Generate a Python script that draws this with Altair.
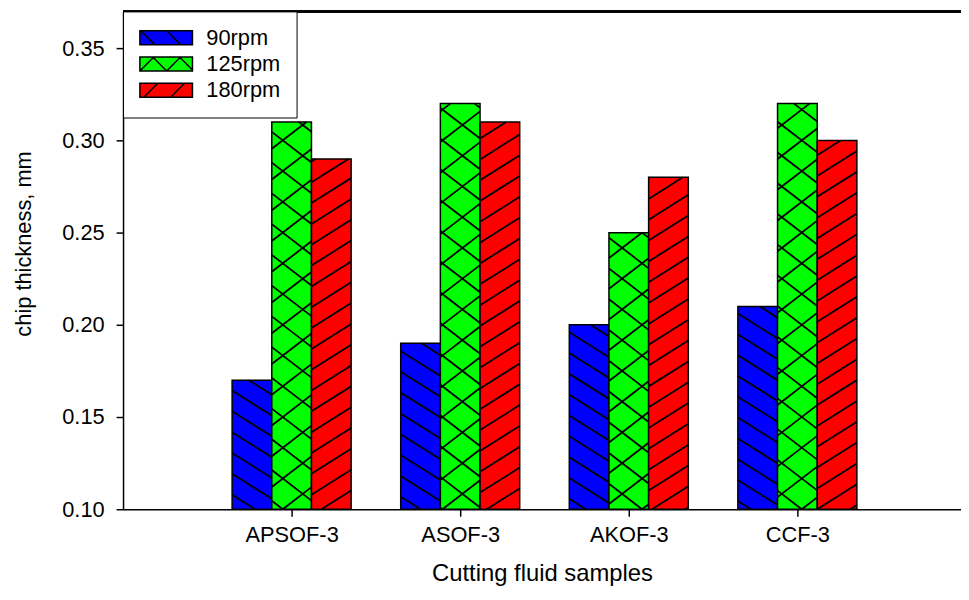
import altair as alt
import pandas as pd

# ---------------- data ----------------
categories = ["APSOF-3", "ASOF-3", "AKOF-3", "CCF-3"]
series = ["90rpm", "125rpm", "180rpm"]
rpm90 = [0.17, 0.19, 0.20, 0.21]
rpm125 = [0.31, 0.32, 0.25, 0.32]
rpm180 = [0.29, 0.31, 0.28, 0.30]
colors = ["#0000ff", "#00ff00", "#ff0000"]
y_ticks = [0.10, 0.15, 0.20, 0.25, 0.30, 0.35]

# ---------------- layout ----------------
W, H = 845, 502
X_MAX = 845 / 170.0
Y_MIN = 0.10
Y_MAX = 0.37
KX = W / X_MAX
KY = H / (Y_MAX - Y_MIN)
BAR_W = 40 / KX
FONT = "Liberation Sans"

rows = []
for si, (s, vals) in enumerate(zip(series, [rpm90, rpm125, rpm180])):
    for ci, (c, v) in enumerate(zip(categories, vals)):
        center = (ci + 1) + (si - 1) * BAR_W
        rows.append(dict(category=c, series=s, value=v,
                         x0=center - BAR_W / 2, x1=center + BAR_W / 2, base=Y_MIN))
bars_df = pd.DataFrame(rows)

# hatch patterns: (direction, slope, vertical spacing in px)
hatch_spec = {
    "90rpm": [(-1, 0.63, 21.0)],
    "125rpm": [(1, 0.77, 31.0), (-1, 0.77, 31.0)],
    "180rpm": [(1, 0.63, 21.0)],
}
segs = []
for r in rows:
    xl, xr = r["x0"] * KX, r["x1"] * KX
    yb, yt = 0.0, (r["value"] - Y_MIN) * KY
    for sign, s, d in hatch_spec[r["series"]]:
        if sign > 0:
            cmin, cmax = yb - s * xr, yt - s * xl
        else:
            cmin, cmax = yb + s * xl, yt + s * xr
        k = int(cmin // d)
        while k * d <= cmax:
            c = k * d
            k += 1
            if sign > 0:
                xa, xb = max(xl, (yb - c) / s), min(xr, (yt - c) / s)
            else:
                xa, xb = max(xl, (c - yt) / s), min(xr, (c - yb) / s)
            if xb - xa < 0.5:
                continue
            ya, yb2 = sign * s * xa + c, sign * s * xb + c
            segs.append(dict(hx0=xa / KX, hx1=xb / KX,
                             hy0=Y_MIN + ya / KY, hy1=Y_MIN + yb2 / KY))
hatch_df = pd.DataFrame(segs)

# legend swatch shapes (53x14 px rectangles with hatching)
SW, SH = 53.0, 14.0


def P(px, py):
    return f"{(px - SW / 2) / (SW / 2):.4f},{(py - SH / 2) / (SW / 2):.4f}"


def swatch(lines):
    p = f"M{P(0, 0)}L{P(SW, 0)}L{P(SW, SH)}L{P(0, SH)}Z"
    for (a, b, c, d) in lines:
        p += f"M{P(a, b)}L{P(c, d)}"
    return p


shapes = [
    swatch([(1, 0, 15, 14), (27, 0, 41, 14)]),
    swatch([(0, 14, 14, 0), (27, 14, 41, 0), (13, 0, 27, 14), (40, 0, 53, 13)]),
    swatch([(4, 14, 18, 0), (31, 14, 45, 0)]),
]

xscale = alt.Scale(domain=[0, X_MAX], nice=False, zero=False)
yscale = alt.Scale(domain=[Y_MIN, Y_MAX], nice=False, zero=False)
cscale = alt.Scale(domain=series, range=colors)
sscale = alt.Scale(domain=series, range=shapes)
kscale = alt.Scale(domain=series, range=["black", "black", "black"])

label_expr = "[" + ",".join(f"'{c}'" for c in categories) + "][datum.value - 1]"

xaxis = alt.Axis(values=[1, 2, 3, 4], labelExpr=label_expr, grid=False,
                 tickSize=7, tickColor="black", tickWidth=1.5,
                 domainColor="black", domainWidth=1.5,
                 labelFont=FONT, labelFontSize=22, labelColor="black", labelPadding=9,
                 title="Cutting fluid samples", titleFont=FONT, titleFontSize=24,
                 titleFontWeight="normal", titleColor="black", titlePadding=16)
yaxis = alt.Axis(values=y_ticks, format=".2f", grid=False,
                 tickSize=7, tickColor="black", tickWidth=1.5,
                 domainColor="black", domainWidth=1.5,
                 labelFont=FONT, labelFontSize=22, labelColor="black", labelPadding=12,
                 title="chip thickness, mm", titleFont=FONT, titleFontSize=22,
                 titleFontWeight="normal", titleColor="black",
                 titleAngle=270, titleAlign="center", titleBaseline="alphabetic",
                 titleX=-93, titleY=234)

legend = alt.Legend(title=None, orient="none", legendX=0, legendY=0,
                    strokeColor="black", fillColor="white", padding=16,
                    rowPadding=3.5, clipHeight=21, labelOffset=13,
                    symbolSize=2809, symbolStrokeWidth=1.5, symbolStrokeColor="black",
                    symbolOpacity=1,
                    labelFont=FONT, labelFontSize=22, labelColor="black")

frame = alt.Chart(bars_df).mark_rule(color="black", strokeWidth=1.5).encode(
    x=alt.value(0), x2=alt.value(W), y=alt.value(0)
)

bars = alt.Chart(bars_df).mark_rect(stroke="black", strokeWidth=1.5).encode(
    x=alt.X("x0:Q", scale=xscale, axis=xaxis),
    x2="x1:Q",
    y=alt.Y("value:Q", scale=yscale, axis=yaxis),
    y2="base:Q",
    color=alt.Color("series:N", scale=cscale, legend=legend),
)

hatch = alt.Chart(hatch_df).mark_rule(color="black", strokeWidth=1.8).encode(
    x="hx0:Q", x2="hx1:Q", y="hy0:Q", y2="hy1:Q",
)

leg = alt.Chart(bars_df).mark_point(
    filled=True, size=2809, opacity=0, strokeWidth=1.5
).encode(
    color=alt.Color("series:N", scale=cscale, legend=legend),
    stroke=alt.Stroke("series:N", scale=kscale, legend=legend),
    shape=alt.Shape("series:N", scale=sscale, legend=legend),
)

chart = alt.layer(leg, bars, hatch, frame).properties(
    width=W, height=H,
    autosize=alt.AutoSizeParams(type="none"),
    padding={"left": 116, "top": 1, "right": 0, "bottom": 81},
).configure_view(stroke=None)

chart.save("out.html", embed_options={"renderer": "svg", "actions": False})
